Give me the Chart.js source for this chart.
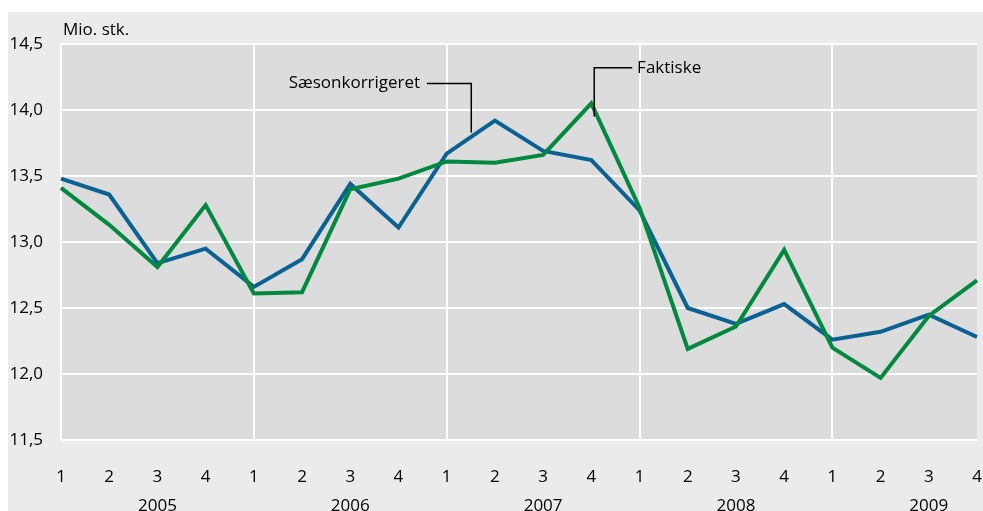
<!DOCTYPE html>
<html>
<head>
<meta charset="utf-8">
<script src="https://cdn.jsdelivr.net/npm/chart.js@4/dist/chart.umd.min.js"></script>
<style>
  html, body { margin: 0; padding: 0; background: #fff; }
  #wrap { position: absolute; left: 8px; top: 12px; width: 975px; height: 499px; background: #ebebeb; }
</style>
</head>
<body>
<div id="wrap"><canvas id="myChart" width="975" height="499"></canvas></div>
<script>
// data
var years = ['2005', '2006', '2007', '2008', '2009'];
var quarters = ['1', '2', '3', '4'];
var saesonkorrigeret = [13.48, 13.36, 12.84, 12.95, 12.66, 12.87, 13.44, 13.11, 13.67, 13.92, 13.69, 13.62, 13.24, 12.50, 12.38, 12.53, 12.26, 12.32, 12.45, 12.28];
var faktiske = [13.41, 13.13, 12.81, 13.28, 12.61, 12.62, 13.40, 13.48, 13.61, 13.60, 13.66, 14.05, 13.26, 12.19, 12.36, 12.94, 12.20, 11.97, 12.44, 12.71];
var yTickLabels = ['11,5', '12,0', '12,5', '13,0', '13,5', '14,0', '14,5'];

// x labels: quarter, year under 3rd quarter
var labels = [];
years.forEach(function (yr) {
  quarters.forEach(function (q) {
    labels.push(q === '3' ? [q, yr] : q);
  });
});

var FONT = 'Open Sans';

// leader labels (in data units)
var notes = [
  { text: 'Sæsonkorrigeret', textX: 7.45, align: 'right', path: [[7.59, 14.2], [8.51, 14.2], [8.51, 13.83]] },
  { text: 'Faktiske', textX: 11.95, align: 'left', path: [[11.85, 14.32], [11.06, 14.32], [11.06, 13.95]] }
];

var bgPlugin = {
  id: 'bg',
  beforeDraw: function (chart) {
    var a = chart.chartArea, c = chart.ctx;
    c.save();
    c.fillStyle = '#dcdcdc';
    c.fillRect(a.left, a.top, a.right - a.left, a.bottom - a.top);
    c.restore();
  },
  afterDatasetsDraw: function (chart) {
    var c = chart.ctx, xs = chart.scales.x, ys = chart.scales.y, a = chart.chartArea;
    c.save();
    c.fillStyle = '#000';
    c.font = '17px "' + FONT + '"';
    c.textBaseline = 'middle';
    c.textAlign = 'left';
    c.fillText('Mio. stk.', a.left + 2, a.top - 14);

    c.strokeStyle = '#000';
    c.lineWidth = 1.5;
    notes.forEach(function (n) {
      c.beginPath();
      n.path.forEach(function (p, i) {
        var px = xs.getPixelForValue(p[0]), py = ys.getPixelForValue(p[1]);
        if (i === 0) c.moveTo(px, py); else c.lineTo(px, py);
      });
      c.stroke();
      c.textAlign = n.align;
      c.fillText(n.text, xs.getPixelForValue(n.textX), ys.getPixelForValue(n.path[0][1]));
    });
    c.restore();
  }
};

var ctx = document.getElementById('myChart').getContext('2d');

var myChart = new Chart(ctx, {
  type: 'line',
  data: {
    labels: labels,
    datasets: [{
      label: 'Faktiske',
      data: faktiske,
      borderColor: '#00893f',
      borderWidth: 4,
      pointRadius: 0,
      fill: false,
      tension: 0
    }, {
      label: 'Sæsonkorrigeret',
      data: saesonkorrigeret,
      borderColor: '#0a6294',
      borderWidth: 4,
      pointRadius: 0,
      fill: false,
      tension: 0
    }]
  },
  options: {
    responsive: false,
    animation: false,
    layout: { padding: { left: 0, right: 6, top: 32, bottom: 0 } },
    plugins: {
      legend: { display: false },
      tooltip: { enabled: false }
    },
    scales: {
      x: {
        offset: false,
        border: { display: false },
        grid: {
          drawTicks: false,
          lineWidth: 2,
          color: function (c) {
            return c.index % 4 === 0 ? '#ffffff' : 'rgba(0,0,0,0)';
          }
        },
        ticks: {
          color: '#000',
          font: { family: FONT, size: 17, lineHeight: 1.7 },
          padding: 23,
          maxRotation: 0,
          autoSkip: false
        },
        afterFit: function (scale) {
          scale.height = 71;
          scale.paddingLeft = 0;
          scale.paddingRight = 0;
        }
      },
      y: {
        min: 11.5,
        max: 14.5,
        border: { display: false },
        grid: { drawTicks: false, lineWidth: 2, color: '#ffffff' },
        ticks: {
          stepSize: 0.5,
          color: '#000',
          padding: 18,
          font: { family: FONT, size: 17 },
          callback: function (value, index) { return yTickLabels[index]; }
        },
        afterFit: function (scale) { scale.width = 53; }
      }
    }
  },
  plugins: [bgPlugin]
});
</script>
</body>
</html>
